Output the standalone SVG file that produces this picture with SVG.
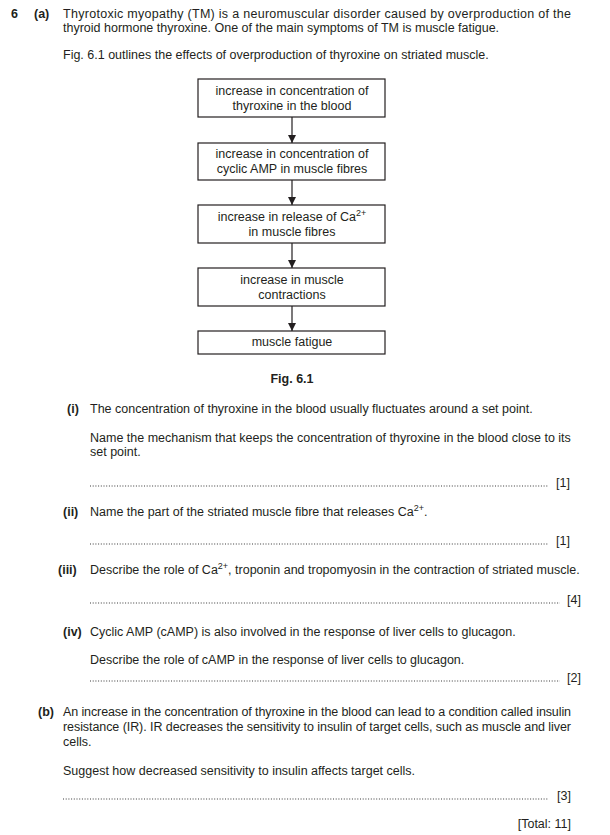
<svg xmlns="http://www.w3.org/2000/svg" width="610" height="835" viewBox="0 0 610 835">
<defs>
<marker id="ah" viewBox="0 0 10 10" refX="10" refY="5" markerWidth="8" markerHeight="9" markerUnits="userSpaceOnUse" orient="auto">
<path d="M0,0 L10,5 L0,10 z" fill="#231f20"/>
</marker>
<style>
text{font-family:"Liberation Sans",Arial,sans-serif;font-size:12.5px;fill:#231f20}
.b{font-weight:bold}
.c{text-anchor:middle}
.r{text-anchor:end}
.box{fill:#fff;stroke:#231f20;stroke-width:1.2}
.dots{stroke:#3a3a3a;stroke-width:1.1;stroke-dasharray:1 1.7}
.sup{font-size:9px}
</style>
</defs>
<rect width="610" height="835" fill="#fff"/>
<g id="intro">
<text x="11" y="18" class="b">6</text>
<text x="34" y="18" class="b">(a)</text>
<text x="63" y="18" textLength="508" lengthAdjust="spacing">Thyrotoxic myopathy (TM) is a neuromuscular disorder caused by overproduction of the</text>
<text x="63" y="32">thyroid hormone thyroxine. One of the main symptoms of TM is muscle fatigue.</text>
<text x="63" y="59">Fig. 6.1 outlines the effects of overproduction of thyroxine on striated muscle.</text>
</g>
<g id="connectors" stroke="#231f20" stroke-width="1.2" fill="none">
<line x1="292" y1="117" x2="292" y2="143" marker-end="url(#ah)"/>
<line x1="292" y1="180" x2="292" y2="205" marker-end="url(#ah)"/>
<line x1="292" y1="243" x2="292" y2="268" marker-end="url(#ah)"/>
<line x1="292" y1="306" x2="292" y2="331" marker-end="url(#ah)"/>
</g>
<g id="node1">
<rect class="box" x="198" y="79" width="187" height="38"/>
<text x="292" y="95" class="c">increase in concentration of</text>
<text x="292" y="110" class="c">thyroxine in the blood</text>
</g>
<g id="node2">
<rect class="box" x="198" y="143" width="187" height="37"/>
<text x="292" y="158" class="c">increase in concentration of</text>
<text x="292" y="173" class="c">cyclic AMP in muscle fibres</text>
</g>
<g id="node3">
<rect class="box" x="198" y="205" width="187" height="38"/>
<text x="292" y="221" class="c">increase in release of Ca<tspan class="sup" dy="-5">2+</tspan></text>
<text x="292" y="236" class="c">in muscle fibres</text>
</g>
<g id="node4">
<rect class="box" x="198" y="268" width="187" height="38"/>
<text x="292" y="284" class="c">increase in muscle</text>
<text x="292" y="299" class="c">contractions</text>
</g>
<g id="node5">
<rect class="box" x="198" y="331" width="187" height="23"/>
<text x="292" y="346" class="c">muscle fatigue</text>
</g>
<text x="292" y="383" class="b c">Fig. 6.1</text>
<g id="q-i">
<text x="67" y="413" class="b">(i)</text>
<text x="90" y="413">The concentration of thyroxine in the blood usually fluctuates around a set point.</text>
<text x="90" y="442">Name the mechanism that keeps the concentration of thyroxine in the blood close to its</text>
<text x="90" y="456">set point.</text>
<line class="dots" x1="90" y1="486" x2="549" y2="486"/>
<text x="570" y="487" class="r">[1]</text>
</g>
<g id="q-ii">
<text x="63" y="516" class="b">(ii)</text>
<text x="90" y="516">Name the part of the striated muscle fibre that releases Ca<tspan class="sup" dy="-5">2+</tspan><tspan dy="5">.</tspan></text>
<line class="dots" x1="90" y1="544" x2="549" y2="544"/>
<text x="570" y="545" class="r">[1]</text>
</g>
<g id="q-iii">
<text x="58" y="574" class="b">(iii)</text>
<text x="90" y="574">Describe the role of Ca<tspan class="sup" dy="-5">2+</tspan><tspan dy="5">, troponin and tropomyosin in the contraction of striated muscle.</tspan></text>
<line class="dots" x1="90" y1="603" x2="560" y2="603"/>
<text x="581" y="604" class="r">[4]</text>
</g>
<g id="q-iv">
<text x="63" y="636" class="b">(iv)</text>
<text x="90" y="636">Cyclic AMP (cAMP) is also involved in the response of liver cells to glucagon.</text>
<text x="90" y="664">Describe the role of cAMP in the response of liver cells to glucagon.</text>
<line class="dots" x1="90" y1="681" x2="560" y2="681"/>
<text x="581" y="682" class="r">[2]</text>
</g>
<g id="q-b">
<text x="38" y="716" class="b">(b)</text>
<text x="63" y="716" textLength="508" lengthAdjust="spacing">An increase in the concentration of thyroxine in the blood can lead to a condition called insulin</text>
<text x="63" y="731" textLength="508" lengthAdjust="spacing">resistance (IR). IR decreases the sensitivity to insulin of target cells, such as muscle and liver</text>
<text x="63" y="746">cells.</text>
<text x="63" y="775">Suggest how decreased sensitivity to insulin affects target cells.</text>
<line class="dots" x1="63" y1="799" x2="549" y2="799"/>
<text x="571" y="800" class="r">[3]</text>
<text x="571" y="828" class="r">[Total: 11]</text>
</g>
</svg>
